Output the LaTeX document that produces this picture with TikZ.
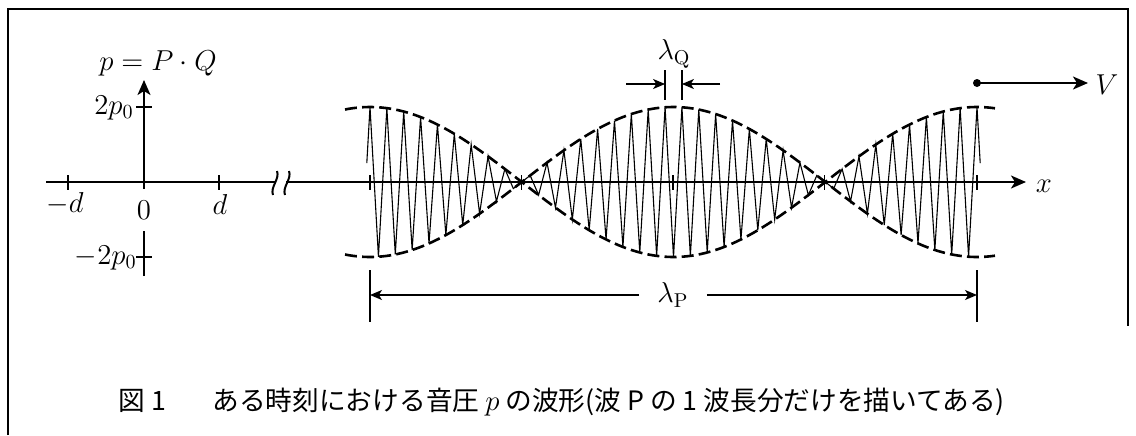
\documentclass[tikz,border=0pt]{standalone}
\usepackage{fontspec}
\newfontfamily\jp{Noto Sans CJK JP}
\usetikzlibrary{arrows.meta}
\begin{document}
\begin{tikzpicture}[x=0.5pt,y=-0.5pt,
  axisline/.style={line width=1pt},
  tickline/.style={line width=0.9pt},
  zig/.style={line width=0.55pt, line join=miter},
  env/.style={line width=1.3pt, dash pattern=on 6pt off 2.6pt},
  lab/.style={inner sep=0pt, font=\Large},
  arr/.style={-{Stealth[length=7.5pt,width=6.5pt,inset=2pt]}},
  sarr/.style={line width=0.75pt,-{Stealth[length=6pt,width=5pt,inset=1.6pt]}},
  bframe/.style={line width=1pt},
  captext/.style={inner sep=0pt, font=\jp\fontsize{13.35}{16}\selectfont}]
\useasboundingbox (0,0) rectangle (1136,435);
% frame
\draw[bframe] (7.5,435) -- (7.5,9) -- (1128,9) -- (1128,326);
% axes
\coordinate (xs) at (46,182);
\coordinate (xb1) at (275,182);
\coordinate (xb2) at (286,182);
\coordinate (xe) at (1026,182);
\coordinate (ys) at (144,276);
\coordinate (ye) at (144,80);
\draw[axisline] (xs) -- (xb1);
\draw[axisline,arr] (xb2) -- (xe);
\draw[axisline,arr] (ys) -- (ye);
% break marks
\draw[axisline] (273,195) .. controls (270,187) and (280,179) .. (277,171);
\draw[axisline] (285,195) .. controls (282,187) and (292,179) .. (289,171);
% ticks
\foreach \xx in {68,219,370,521.5,673,824.5,977}
  \draw[tickline] (\xx,175) -- (\xx,190);
\draw[tickline] (136,107) -- (152,107);
\draw[tickline] (136,257) -- (152,257);
% labels
\node[lab] (lp) at (158,63) {$p=P\cdot Q$};
\node[lab,anchor=east] (l2p) at (134,108) {$2p_0$};
\node[lab,anchor=east] (lm2p) at (137,258) {$-2p_0$};
\node[lab] (lmd) at (65,204) {$-d$};
\node[lab,fill=white,inner xsep=1pt,inner ysep=6pt] (l0) at (144,210) {$0$};
\node[lab] (ld) at (220,204) {$d$};
\node[lab] (lx) at (1044,186) {$x$};
% envelope
\draw[env] plot[domain=345:995,samples=160] (\x,{182-75*cos((\x-370)/607*360)});
\draw[env] plot[domain=345:995,samples=160] (\x,{182+75*cos((\x-370)/607*360)});
% zigzag wave
\draw[zig] (366.8,163.1) \foreach \k in {0,...,72}{ -- ({370+\k*8.430556},{182-75*cos(5*\k)*cos(180*\k)}) } -- (980.2,163.1);
% lambda Q
\coordinate (q1t) at (665.1,70); \coordinate (q1b) at (665.1,100);
\coordinate (q2t) at (681.9,70); \coordinate (q2b) at (681.9,100);
\draw[tickline] (q1t) -- (q1b);
\draw[tickline] (q2t) -- (q2b);
\coordinate (qla) at (626,84); \coordinate (qlb) at (665.1,84);
\coordinate (qra) at (720,84); \coordinate (qrb) at (681.9,84);
\draw[sarr] (qla) -- (qlb);
\draw[sarr] (qra) -- (qrb);
\node[lab] (lQ) at (674,54) {$\lambda_{\mathrm{Q}}$};
% lambda P
\coordinate (p1t) at (370,270); \coordinate (p1b) at (370,322);
\coordinate (p2t) at (977,270); \coordinate (p2b) at (977,322);
\draw[tickline] (p1t) -- (p1b);
\draw[tickline] (p2t) -- (p2b);
\coordinate (pl) at (370,295); \coordinate (pr) at (977,295);
\node[lab,inner xsep=9pt] (lP) at (673,295) {$\lambda_{\mathrm{P}}$};
\draw[sarr] (lP.west) -- (pl);
\draw[sarr] (lP.east) -- (pr);
% V arrow
\node[circle,fill,inner sep=0pt,minimum size=4pt] (vdot) at (977,83) {};
\coordinate (vtip) at (1088,83);
\draw[axisline,arr] (vdot.center) -- (vtip);
\node[lab] (lV) at (1107,85) {$V$};
% caption
\node[captext,anchor=base west] (fig) at (118,410) {図 1};
\node[captext,anchor=base west] (capt) at (212,410) {ある時刻における音圧 $p$ の波形(波 P の 1 波長分だけを描いてある)};
\end{tikzpicture}
\end{document}
